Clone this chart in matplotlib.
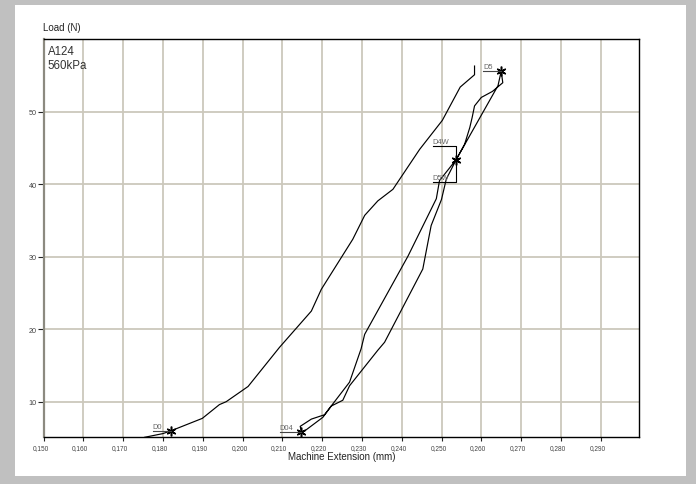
import matplotlib
matplotlib.use("Agg")
import matplotlib.pyplot as plt
import matplotlib.transforms as mtransforms
from matplotlib.patches import Rectangle

plt.rcParams["font.family"] = ["Liberation Sans", "DejaVu Sans"]

# Initial loading run (from D0 up to peak)
load_x = [0.1754, 0.1800, 0.1821, 0.1899, 0.1942, 0.1959, 0.2014, 0.2093, 0.2173,
          0.2198, 0.2277, 0.2307, 0.2340, 0.2378, 0.2445, 0.2502, 0.2547, 0.2583, 0.2583]
load_y = [5.09, 5.6, 6.0, 7.7, 9.6, 10.0, 12.1, 17.5, 22.5,
          25.5, 32.4, 35.7, 37.7, 39.3, 44.8, 48.8, 53.4, 55.1, 56.3]

# Unload / reload cycle between D04 and D5
cycle_x = [0.2148, 0.2157, 0.2202, 0.2223, 0.2252, 0.2269, 0.2340, 0.2357, 0.2453,
           0.2474, 0.2500, 0.2512, 0.2537, 0.2642, 0.2650, 0.2654, 0.2628, 0.2600,
           0.2583, 0.2577, 0.2571, 0.2558, 0.2537, 0.2495, 0.2487, 0.2416, 0.2307,
           0.2298, 0.2269, 0.2227, 0.2206, 0.2173, 0.2145, 0.2148]
cycle_y = [5.86, 6.0, 7.85, 9.4, 10.2, 12.2, 17.1, 18.2, 28.3,
           34.3, 37.9, 40.7, 43.4, 53.6, 55.6, 54.0, 52.8, 51.97,
           50.8, 49.2, 47.8, 45.5, 43.4, 40.5, 38.0, 30.1, 19.3,
           17.3, 12.7, 9.7, 8.2, 7.6, 6.6, 5.86]

# Marked points
point_names = ["D0", "D04", "D5", "D4W"]
point_x = [0.1821, 0.2148, 0.2650, 0.2537]
point_y = [6.0, 5.86, 55.6, 43.4]

x_ticks = [0.150, 0.160, 0.170, 0.180, 0.190, 0.200, 0.210, 0.220,
           0.230, 0.240, 0.250, 0.260, 0.270, 0.280, 0.290]
y_ticks = [10, 20, 30, 40, 50]

W, H = 696, 485
fig = plt.figure(figsize=(W / 100, H / 100), dpi=100)
fig.patch.set_facecolor("#c0c0c0")
# white sheet
fig.add_artist(Rectangle((15 / W, 1 - 477 / H), (686 - 15) / W, (477 - 6) / H,
                         transform=fig.transFigure, facecolor="white",
                         edgecolor="none", zorder=0))

ax = fig.add_axes([43.5 / W, 1 - 438.3 / H, (639 - 43.5) / W, (438.3 - 40) / H])
ax.set_xlim(0.150, 0.150 + (639 - 43.5) / 3980)
ax.set_ylim(5.09, 60.03)

grid_c = "#ccc8bc"
ax.set_xticks(x_ticks)
ax.set_yticks(y_ticks)
ax.set_xticklabels([f"{v:.3f}".replace(".", ",") for v in x_ticks])
ax.set_yticklabels([str(v) for v in y_ticks])
ax.grid(True, color=grid_c, linewidth=1.3)
ax.set_axisbelow(True)

ax.tick_params(axis="x", direction="out", length=3, width=0.8, colors="#222222",
               labelsize=4.7, labelcolor="#444444", pad=2.2)
ax.tick_params(axis="y", direction="out", length=4, width=0.8, colors="#222222",
               labelsize=5.2, labelcolor="#444444", pad=1)
shift = mtransforms.ScaledTranslation(-3 / 100, 0, fig.dpi_scale_trans)
for lbl in ax.get_xticklabels():
    lbl.set_transform(lbl.get_transform() + shift)

for side in ["top", "right", "bottom"]:
    ax.spines[side].set_color("black")
    ax.spines[side].set_linewidth(1.0)
ax.spines["left"].set_color("#8c8a80")
ax.spines["left"].set_linewidth(1.6)

ax.plot(load_x, load_y, color="black", linewidth=0.85)
ax.plot(cycle_x, cycle_y, color="black", linewidth=0.85)
ax.plot(point_x, point_y, linestyle="none", marker=(6, 2, 0), markersize=7,
        markeredgewidth=1.1, color="black")

lead_c = "#444444"
txt_c = "#666666"
fs = 5.4
# D0 / D04 / D5 labels with leader lines to their point
label_left = [0.1774, 0.2093, 0.2604]
for name, lx, px, py in zip(point_names[:3], label_left, point_x[:3], point_y[:3]):
    ax.plot([lx, px], [py, py], color=lead_c, linewidth=0.8)
    ax.text(lx, py + 0.12, name, fontsize=fs, color=txt_c, ha="left", va="bottom")

# D4W / D5W bracket at the crossing point
bx = 0.2478
ax.plot([bx, point_x[3], point_x[3], bx], [45.3, 45.3, 40.34, 40.34],
        color="black", linewidth=0.8)
ax.text(bx, 45.42, "D4W", fontsize=fs, color=txt_c, ha="left", va="bottom")
ax.text(bx, 40.46, "D5W", fontsize=fs, color=txt_c, ha="left", va="bottom")

ax.text(0.007, 0.985, "A124\n560kPa", transform=ax.transAxes, fontsize=8.3,
        color="#333333", ha="left", va="top", linespacing=1.2)

fig.text(43 / W, 1 - 27.7 / H, "Load (N)", fontsize=7, color="#222222",
         ha="left", va="center")
fig.text(342 / W, 1 - 456.7 / H, "Machine Extension (mm)", fontsize=7,
         color="#222222", ha="center", va="center")

fig.savefig("out.png", dpi=100, facecolor=fig.get_facecolor())
